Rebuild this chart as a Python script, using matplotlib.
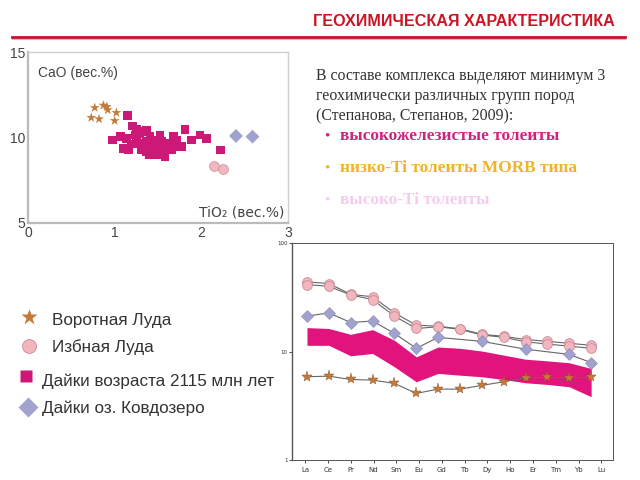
import numpy as np
import matplotlib
matplotlib.use("Agg")
import matplotlib.pyplot as plt
from matplotlib.lines import Line2D

# ---------------- data ----------------
# CaO vs TiO2 scatter
star_tio2 = [0.77, 0.87, 0.91, 0.92, 1.02, 0.73, 0.82, 1.00]
star_cao = [11.74, 11.88, 11.80, 11.61, 11.45, 11.16, 11.08, 10.98]
circ_tio2 = [2.15, 2.25]
circ_cao = [8.35, 8.16]
diam_tio2 = [2.40, 2.59]
diam_cao = [10.09, 10.05]
sq_tio2 = [1.146, 0.973, 1.208, 1.254, 1.369, 1.069, 1.138, 1.254, 1.100, 1.158,
           1.196, 1.292, 1.331, 1.369, 1.408, 1.446, 1.485, 1.523, 1.562, 1.504,
           1.427, 1.369, 1.400, 1.465, 1.542, 1.600, 1.581, 1.638, 1.658, 1.677,
           1.715, 1.735, 1.812, 1.888, 1.985, 2.062, 2.223, 1.292, 1.235, 1.408,
           1.312, 1.485, 1.562, 1.677, 1.773, 1.350]
sq_cao = [11.30, 9.85, 10.67, 10.50, 10.44, 10.05, 9.95, 9.89, 9.37, 9.27,
          9.62, 9.66, 9.50, 9.76, 10.05, 9.85, 9.66, 10.15, 9.50, 9.27,
          9.07, 9.17, 8.98, 9.37, 9.76, 9.27, 8.88, 9.66, 9.27, 10.05,
          9.85, 9.46, 10.48, 9.85, 10.15, 9.95, 9.27, 10.25, 10.15, 9.46,
          9.27, 8.98, 9.07, 9.50, 9.46, 10.34]

# REE spider diagram
ree = ["La", "Ce", "Pr", "Nd", "Sm", "Eu", "Gd", "Tb", "Dy", "Ho", "Er", "Tm", "Yb", "Lu"]
izb_a = [43.8, 42.3, 33.7, 31.9, 22.7, 17.5, 17.1, 16.2, 14.4, 13.8, 12.9, 12.4, 11.9, 11.4]
izb_b = [41.4, 39.9, 33.2, 30.1, 21.2, 16.3, 16.9, 16.0, 14.2, 13.5, 12.3, 11.7, 11.2, 10.7]
kovd = [21.2, 22.7, 18.5, 19.1, 14.7, 10.7, 13.5, np.nan, 12.4, np.nan, 10.5, np.nan, 9.4, 7.9]
vorot = [5.85, 5.93, 5.52, 5.45, 5.08, 4.11, 4.50, 4.50, 4.87, 5.26, 5.73, 5.77, 5.73, 5.77]
band_hi = [16.6, 16.3, 14.4, 15.9, 12.7, 8.93, 11.0, 10.7, 10.1, 9.26, 8.49, 8.20, 7.87, 6.98]
band_lo = [11.4, 11.4, 9.12, 9.59, 7.23, 5.26, 6.28, 6.05, 5.85, 5.52, 5.15, 4.97, 4.73, 3.83]

legend_labels = ["Воротная Луда", "Избная Луда", "Дайки возраста 2115 млн лет", "Дайки оз. Ковдозеро"]

# ---------------- colours ----------------
c_star = "#C47A3A"
c_star_edge = "#8A5020"
c_circ = "#F2B6BE"
c_circ_edge = "#C98C96"
c_sq = "#CC1877"
c_diam = "#A2A2CE"
c_diam_edge = "#8888B4"
c_band = "#E0147C"

W, H = 640, 480
fig = plt.figure(figsize=(6.4, 4.8), dpi=100)
fig.patch.set_facecolor("white")

def fx(px):
    return px / W

def fy(py):
    return 1 - py / H

# ---------------- header ----------------
fig.text(fx(615), fy(22), "ГЕОХИМИЧЕСКАЯ ХАРАКТЕРИСТИКА", ha="right", va="center",
         fontsize=11.6, fontweight="bold", color="#CC1424", family="Liberation Sans")
fig.add_artist(Line2D([fx(12), fx(625)], [fy(37), fy(37)], color="#C8102E", lw=2.0))
fig.add_artist(Line2D([fx(12), fx(625)], [fy(39), fy(39)], color="#E07080", lw=0.8, alpha=0.6))

# ---------------- body text ----------------
body = ["В составе комплекса выделяют минимум 3",
        "геохимически различных групп пород",
        "(Степанова, Степанов, 2009):"]
for i, line in enumerate(body):
    fig.text(fx(316), fy(76 + i * 20), line, ha="left", va="center", fontsize=11.4,
             color="#333333", family="Liberation Serif")

bullets = ["высокожелезистые толеиты", "низко-Ti толеиты MORB типа", "высоко-Ti толеиты"]
bullet_colors = ["#D0227E", "#F2B22A", "#F4CCEE"]
for i, (b, c) in enumerate(zip(bullets, bullet_colors)):
    y = 136 + i * 32
    fig.text(fx(324), fy(y), "•", ha="left", va="center", fontsize=11, color=c,
             family="Liberation Serif")
    fig.text(fx(340), fy(y), b, ha="left", va="center", fontsize=12.4, color=c,
             fontweight="bold", family="Liberation Serif")

# ---------------- scatter ----------------
ax1 = fig.add_axes([fx(28), fy(223), fx(288) - fx(28), fy(52) - fy(223)])
ax1.scatter(sq_tio2, sq_cao, marker="s", s=38, color=c_sq, edgecolors="none", zorder=3)
ax1.scatter(star_tio2, star_cao, marker="*", s=55, color=c_star, edgecolors="none", zorder=3)
ax1.scatter(circ_tio2, circ_cao, marker="o", s=50, color=c_circ, edgecolors=c_circ_edge,
            linewidths=0.5, zorder=3)
ax1.scatter(diam_tio2, diam_cao, marker="D", s=50, color=c_diam, edgecolors="none", zorder=3)
ax1.set_xlim(0, 3)
ax1.set_ylim(5, 15)
ax1.set_xticks([0, 1, 2, 3])
ax1.set_yticks([5, 10, 15])
ax1.tick_params(length=0, labelsize=10, labelcolor="#444444", pad=2)
for lab in ax1.get_xticklabels() + ax1.get_yticklabels():
    lab.set_family("Liberation Sans")
for sp in ax1.spines.values():
    sp.set_color("#D0D0D0")
    sp.set_linewidth(1.0)
ax1.spines["left"].set_color("#BBBBBB")
ax1.spines["bottom"].set_color("#BBBBBB")
ax1.spines["left"].set_linewidth(1.6)
ax1.spines["bottom"].set_linewidth(1.6)
ax1.text(0.04, 0.88, "CaO (вес.%)", transform=ax1.transAxes, fontsize=10,
         color="#444444", family="Liberation Sans", va="center")
ax1.text(0.985, 0.06, "TiO₂ (вес.%)", transform=ax1.transAxes, fontsize=10,
         color="#444444", family="DejaVu Sans", ha="right", va="center")

# ---------------- REE diagram ----------------
ax2 = fig.add_axes([fx(292), fy(460), fx(613) - fx(292), fy(243) - fy(460)])
xi = np.arange(len(ree))
ax2.fill_between(xi, band_lo, band_hi, color=c_band, linewidth=0, zorder=2)
for series in (izb_a, izb_b):
    ax2.plot(xi, series, color="#666666", lw=0.8, zorder=3)
    ax2.plot(xi, series, "o", ms=7, markerfacecolor=c_circ, markeredgecolor=c_circ_edge,
             markeredgewidth=0.6, zorder=4)
kv = np.array(kovd, dtype=float)
m = ~np.isnan(kv)
ax2.plot(xi[m], kv[m], color="#666666", lw=0.8, zorder=3)
ax2.plot(xi[m], kv[m], "D", ms=6, markerfacecolor=c_diam, markeredgecolor=c_diam_edge,
         markeredgewidth=0.4, zorder=4)
ax2.plot(xi, vorot, color="#666666", lw=0.8, zorder=3)
ax2.plot(xi, vorot, "*", ms=8, markerfacecolor=c_star, markeredgecolor=c_star_edge,
         markeredgewidth=0.3, zorder=4)
ax2.set_yscale("log")
ax2.set_ylim(1, 100)
ax2.set_xlim(-0.685, 14.0)
label_pos = -0.08 + xi * 1.042
ax2.set_xticks(label_pos)
ax2.set_xticklabels(ree)
ax2.set_yticks([1, 10, 100])
ax2.set_yticklabels(["1", "10", "100"])
ax2.yaxis.set_minor_locator(matplotlib.ticker.NullLocator())
ax2.tick_params(axis="x", length=2, width=0.5, labelsize=5, labelcolor="#333333", pad=3)
ax2.tick_params(axis="y", length=2, width=0.5, labelsize=4, labelcolor="#333333", pad=1)
for sp in ax2.spines.values():
    sp.set_color("#555555")
    sp.set_linewidth(0.7)
ax2.spines["left"].set_linewidth(1.0)

# ---------------- legend ----------------
leg_mk = [("*", c_star, 29, 317, 12), ("o", c_circ, 29, 346, 10),
          ("s", c_sq, 26, 376, 8), ("D", c_diam, 28, 407, 10)]
leg_tx = [(52, 321), (52, 347), (42, 381), (42, 408)]
for (mk, col, x, y, ms), (tx, ty), lab in zip(leg_mk, leg_tx, legend_labels):
    ec = c_circ_edge if mk == "o" else "none"
    fig.add_artist(Line2D([fx(x)], [fy(y)], marker=mk, ms=ms, markerfacecolor=col,
                          markeredgecolor=ec, markeredgewidth=0.6, linestyle="none"))
    fig.text(fx(tx), fy(ty), lab, ha="left", va="center", fontsize=12.3,
             color="#333333", family="Liberation Sans")

fig.savefig("out.png", dpi=100, facecolor="white")
